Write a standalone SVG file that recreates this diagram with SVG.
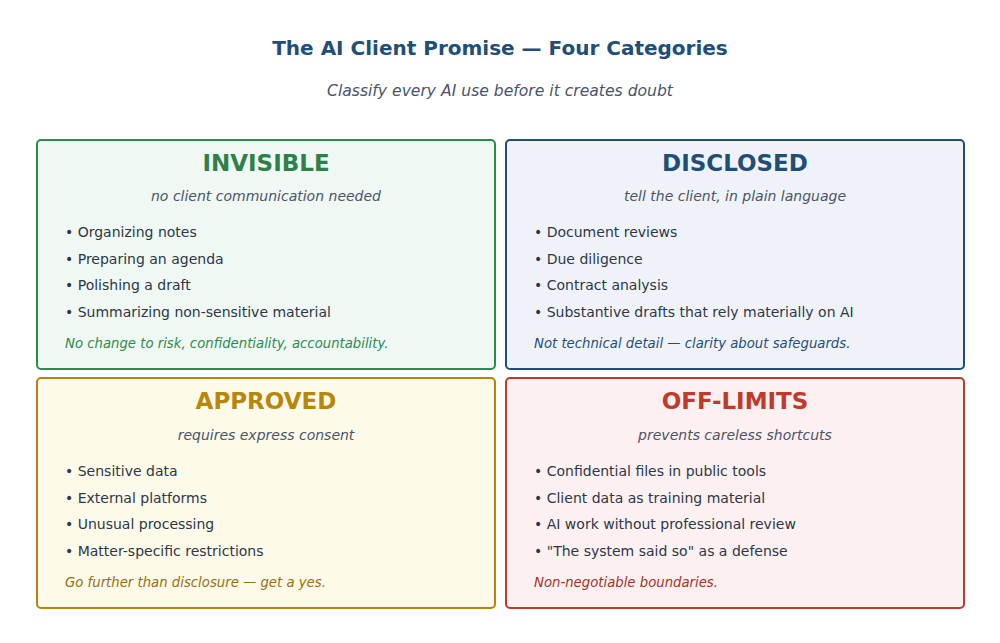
<svg xmlns="http://www.w3.org/2000/svg" width="1000" height="643" viewBox="0 0 1000 643">
<style>
text{font-family:"DejaVu Sans","Liberation Sans",sans-serif}
.title{font-size:20px;font-weight:bold;fill:#1f4e79;text-anchor:middle}
.sub{font-size:15.6px;font-style:italic;fill:#4a5568;text-anchor:middle}
.box{stroke-width:2}
.h{font-size:23px;font-weight:bold;text-anchor:middle}
.s{font-size:14px;font-style:italic;fill:#4a5568;text-anchor:middle}
.b{font-size:14px;fill:#2d3748}
.f{font-size:13.25px;font-style:italic}
</style>
<rect width="1000" height="643" fill="#ffffff"/>
<text class="title" x="500" y="55">The AI Client Promise — Four Categories</text>
<text class="sub" x="500" y="96">Classify every AI use before it creates doubt</text>
<g id="invisible">
<rect class="box" x="37" y="140" width="458" height="229" rx="4" fill="#eff8f3" stroke="#2e8b4e"/>
<text class="h" x="266" y="171" fill="#2e8049">INVISIBLE</text>
<text class="s" x="266" y="201">no client communication needed</text>
<text class="b" x="65" y="237">• Organizing notes</text>
<text class="b" x="65" y="264">• Preparing an agenda</text>
<text class="b" x="65" y="290">• Polishing a draft</text>
<text class="b" x="65" y="317">• Summarizing non-sensitive material</text>
<text class="f" x="65" y="348" fill="#2e8b4e">No change to risk, confidentiality, accountability.</text>
</g>
<g id="disclosed">
<rect class="box" x="506" y="140" width="458" height="229" rx="4" fill="#eff3f9" stroke="#1f4e79"/>
<text class="h" x="735" y="171" fill="#1f4e79">DISCLOSED</text>
<text class="s" x="735" y="201">tell the client, in plain language</text>
<text class="b" x="534" y="237">• Document reviews</text>
<text class="b" x="534" y="264">• Due diligence</text>
<text class="b" x="534" y="290">• Contract analysis</text>
<text class="b" x="534" y="317">• Substantive drafts that rely materially on AI</text>
<text class="f" x="534" y="348" fill="#1f4e79">Not technical detail — clarity about safeguards.</text>
</g>
<g id="approved">
<rect class="box" x="37" y="378" width="458" height="230" rx="4" fill="#fdfae9" stroke="#b8860b"/>
<text class="h" x="266" y="409" fill="#b8860b">APPROVED</text>
<text class="s" x="266" y="440">requires express consent</text>
<text class="b" x="65" y="476">• Sensitive data</text>
<text class="b" x="65" y="503">• External platforms</text>
<text class="b" x="65" y="529">• Unusual processing</text>
<text class="b" x="65" y="556">• Matter-specific restrictions</text>
<text class="f" x="65" y="587" fill="#9a6e0a">Go further than disclosure — get a yes.</text>
</g>
<g id="off-limits">
<rect class="box" x="506" y="378" width="458" height="230" rx="4" fill="#fdf0f0" stroke="#c0392b"/>
<text class="h" x="735" y="409" fill="#c0392b">OFF-LIMITS</text>
<text class="s" x="735" y="440">prevents careless shortcuts</text>
<text class="b" x="534" y="476">• Confidential files in public tools</text>
<text class="b" x="534" y="503">• Client data as training material</text>
<text class="b" x="534" y="529">• AI work without professional review</text>
<text class="b" x="534" y="556">• "The system said so" as a defense</text>
<text class="f" x="534" y="587" fill="#a93226">Non-negotiable boundaries.</text>
</g>
<g id="connectors"></g>
</svg>
